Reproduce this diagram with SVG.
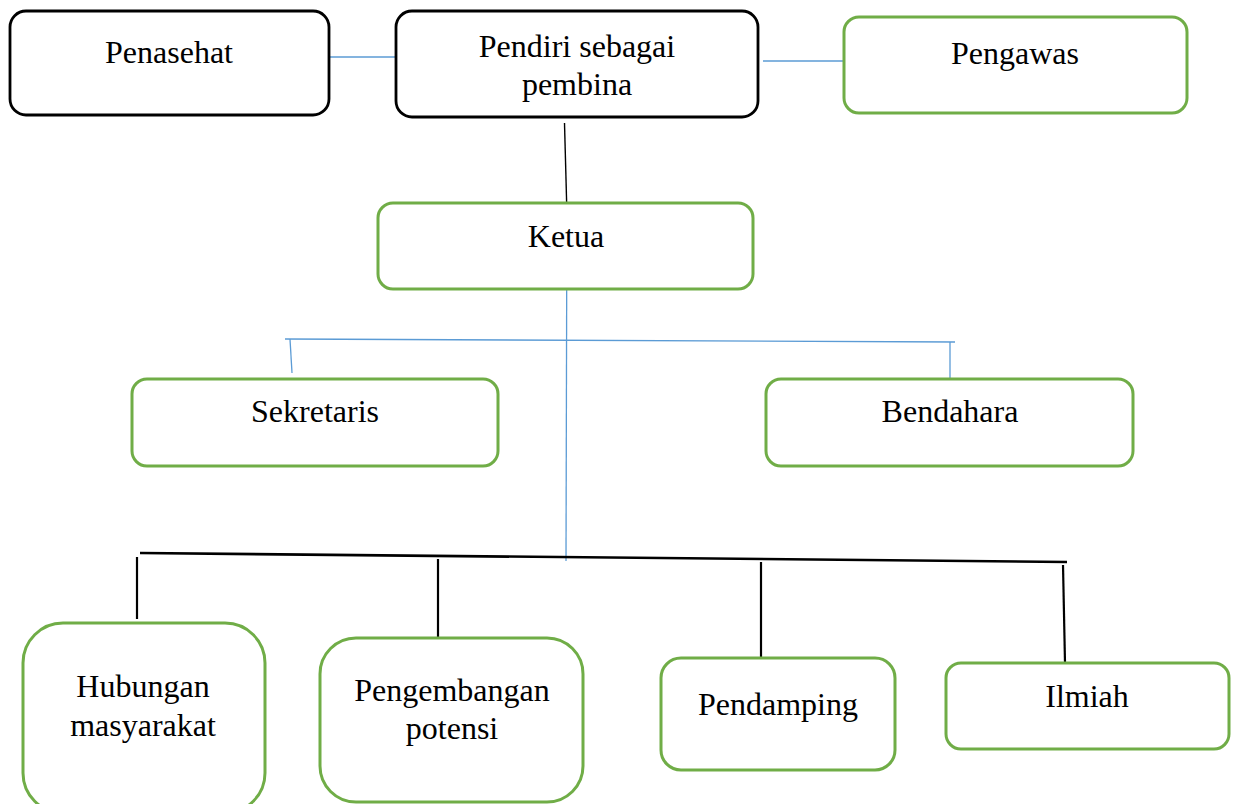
<svg xmlns="http://www.w3.org/2000/svg" width="1237" height="804" viewBox="0 0 1237 804">
<style>
.bk{fill:#fff;stroke:#000;stroke-width:2.8}
.gr{fill:#fff;stroke:#70AD47;stroke-width:3}
.t{fill:#000;text-anchor:middle}
.cb{stroke:#5B9BD5;stroke-width:1.3;fill:none}
.ck{stroke:#000;stroke-width:2.2;fill:none}
</style>
<rect width="1237" height="804" fill="#fff"/>
<g id="connectors">
<line class="cb" x1="330" y1="57" x2="403" y2="57"/>
<line class="cb" x1="763" y1="61" x2="844" y2="61"/>
<line class="ck" style="stroke-width:1.4" x1="564.5" y1="123" x2="566.7" y2="205"/>
<line class="cb" x1="566.7" y1="285" x2="566" y2="561"/>
<line class="cb" x1="285" y1="339" x2="955" y2="342"/>
<line class="cb" x1="290" y1="339" x2="292" y2="373"/>
<line class="cb" x1="950" y1="342" x2="950" y2="385"/>
<line class="ck" style="stroke-width:2.6" x1="140" y1="553" x2="1067" y2="562"/>
<line class="ck" x1="137" y1="557" x2="137" y2="619"/>
<line class="ck" x1="438" y1="559" x2="438" y2="638"/>
<line class="ck" x1="761" y1="562" x2="761" y2="663"/>
<line class="ck" x1="1063" y1="565" x2="1065" y2="663"/>
</g>
<g id="penasehat">
<rect class="bk" x="10" y="11" width="319" height="104" rx="16"/>
<text class="t" font-family="Liberation Serif" font-size="32" x="169" y="63">Penasehat</text>
</g>
<g id="pendiri">
<rect class="bk" x="396" y="11" width="362" height="106" rx="16"/>
<text class="t" font-family="Liberation Serif" font-size="32" x="577" y="57">Pendiri sebagai</text>
<text class="t" font-family="Liberation Serif" font-size="32" x="577" y="95">pembina</text>
</g>
<g id="pengawas">
<rect class="gr" x="844" y="17" width="343" height="96" rx="15"/>
<text class="t" font-family="Liberation Serif" font-size="32" x="1015" y="64">Pengawas</text>
</g>
<g id="ketua">
<rect class="gr" x="378" y="203" width="375" height="86" rx="15"/>
<text class="t" font-family="Liberation Serif" font-size="32" x="566" y="247">Ketua</text>
</g>
<g id="sekretaris">
<rect class="gr" x="132" y="379" width="366" height="87" rx="15"/>
<text class="t" font-family="Liberation Serif" font-size="32" x="315" y="422">Sekretaris</text>
</g>
<g id="bendahara">
<rect class="gr" x="766" y="379" width="367" height="87" rx="15"/>
<text class="t" font-family="Liberation Serif" font-size="32" x="950" y="422">Bendahara</text>
</g>
<g id="hubungan">
<rect class="gr" x="23" y="623" width="242" height="190" rx="40"/>
<text class="t" font-family="Liberation Serif" font-size="32" x="143" y="697">Hubungan</text>
<text class="t" font-family="Liberation Serif" font-size="32" x="143" y="736">masyarakat</text>
</g>
<g id="pengembangan">
<rect class="gr" x="320" y="638" width="263" height="164" rx="36"/>
<text class="t" font-family="Liberation Serif" font-size="32" x="452" y="701">Pengembangan</text>
<text class="t" font-family="Liberation Serif" font-size="32" x="452" y="739">potensi</text>
</g>
<g id="pendamping">
<rect class="gr" x="661" y="658" width="234" height="112" rx="20"/>
<text class="t" font-family="Liberation Serif" font-size="32" x="778" y="715">Pendamping</text>
</g>
<g id="ilmiah">
<rect class="gr" x="946" y="663" width="283" height="86" rx="15"/>
<text class="t" font-family="Liberation Serif" font-size="32" x="1087" y="707">Ilmiah</text>
</g>
</svg>
